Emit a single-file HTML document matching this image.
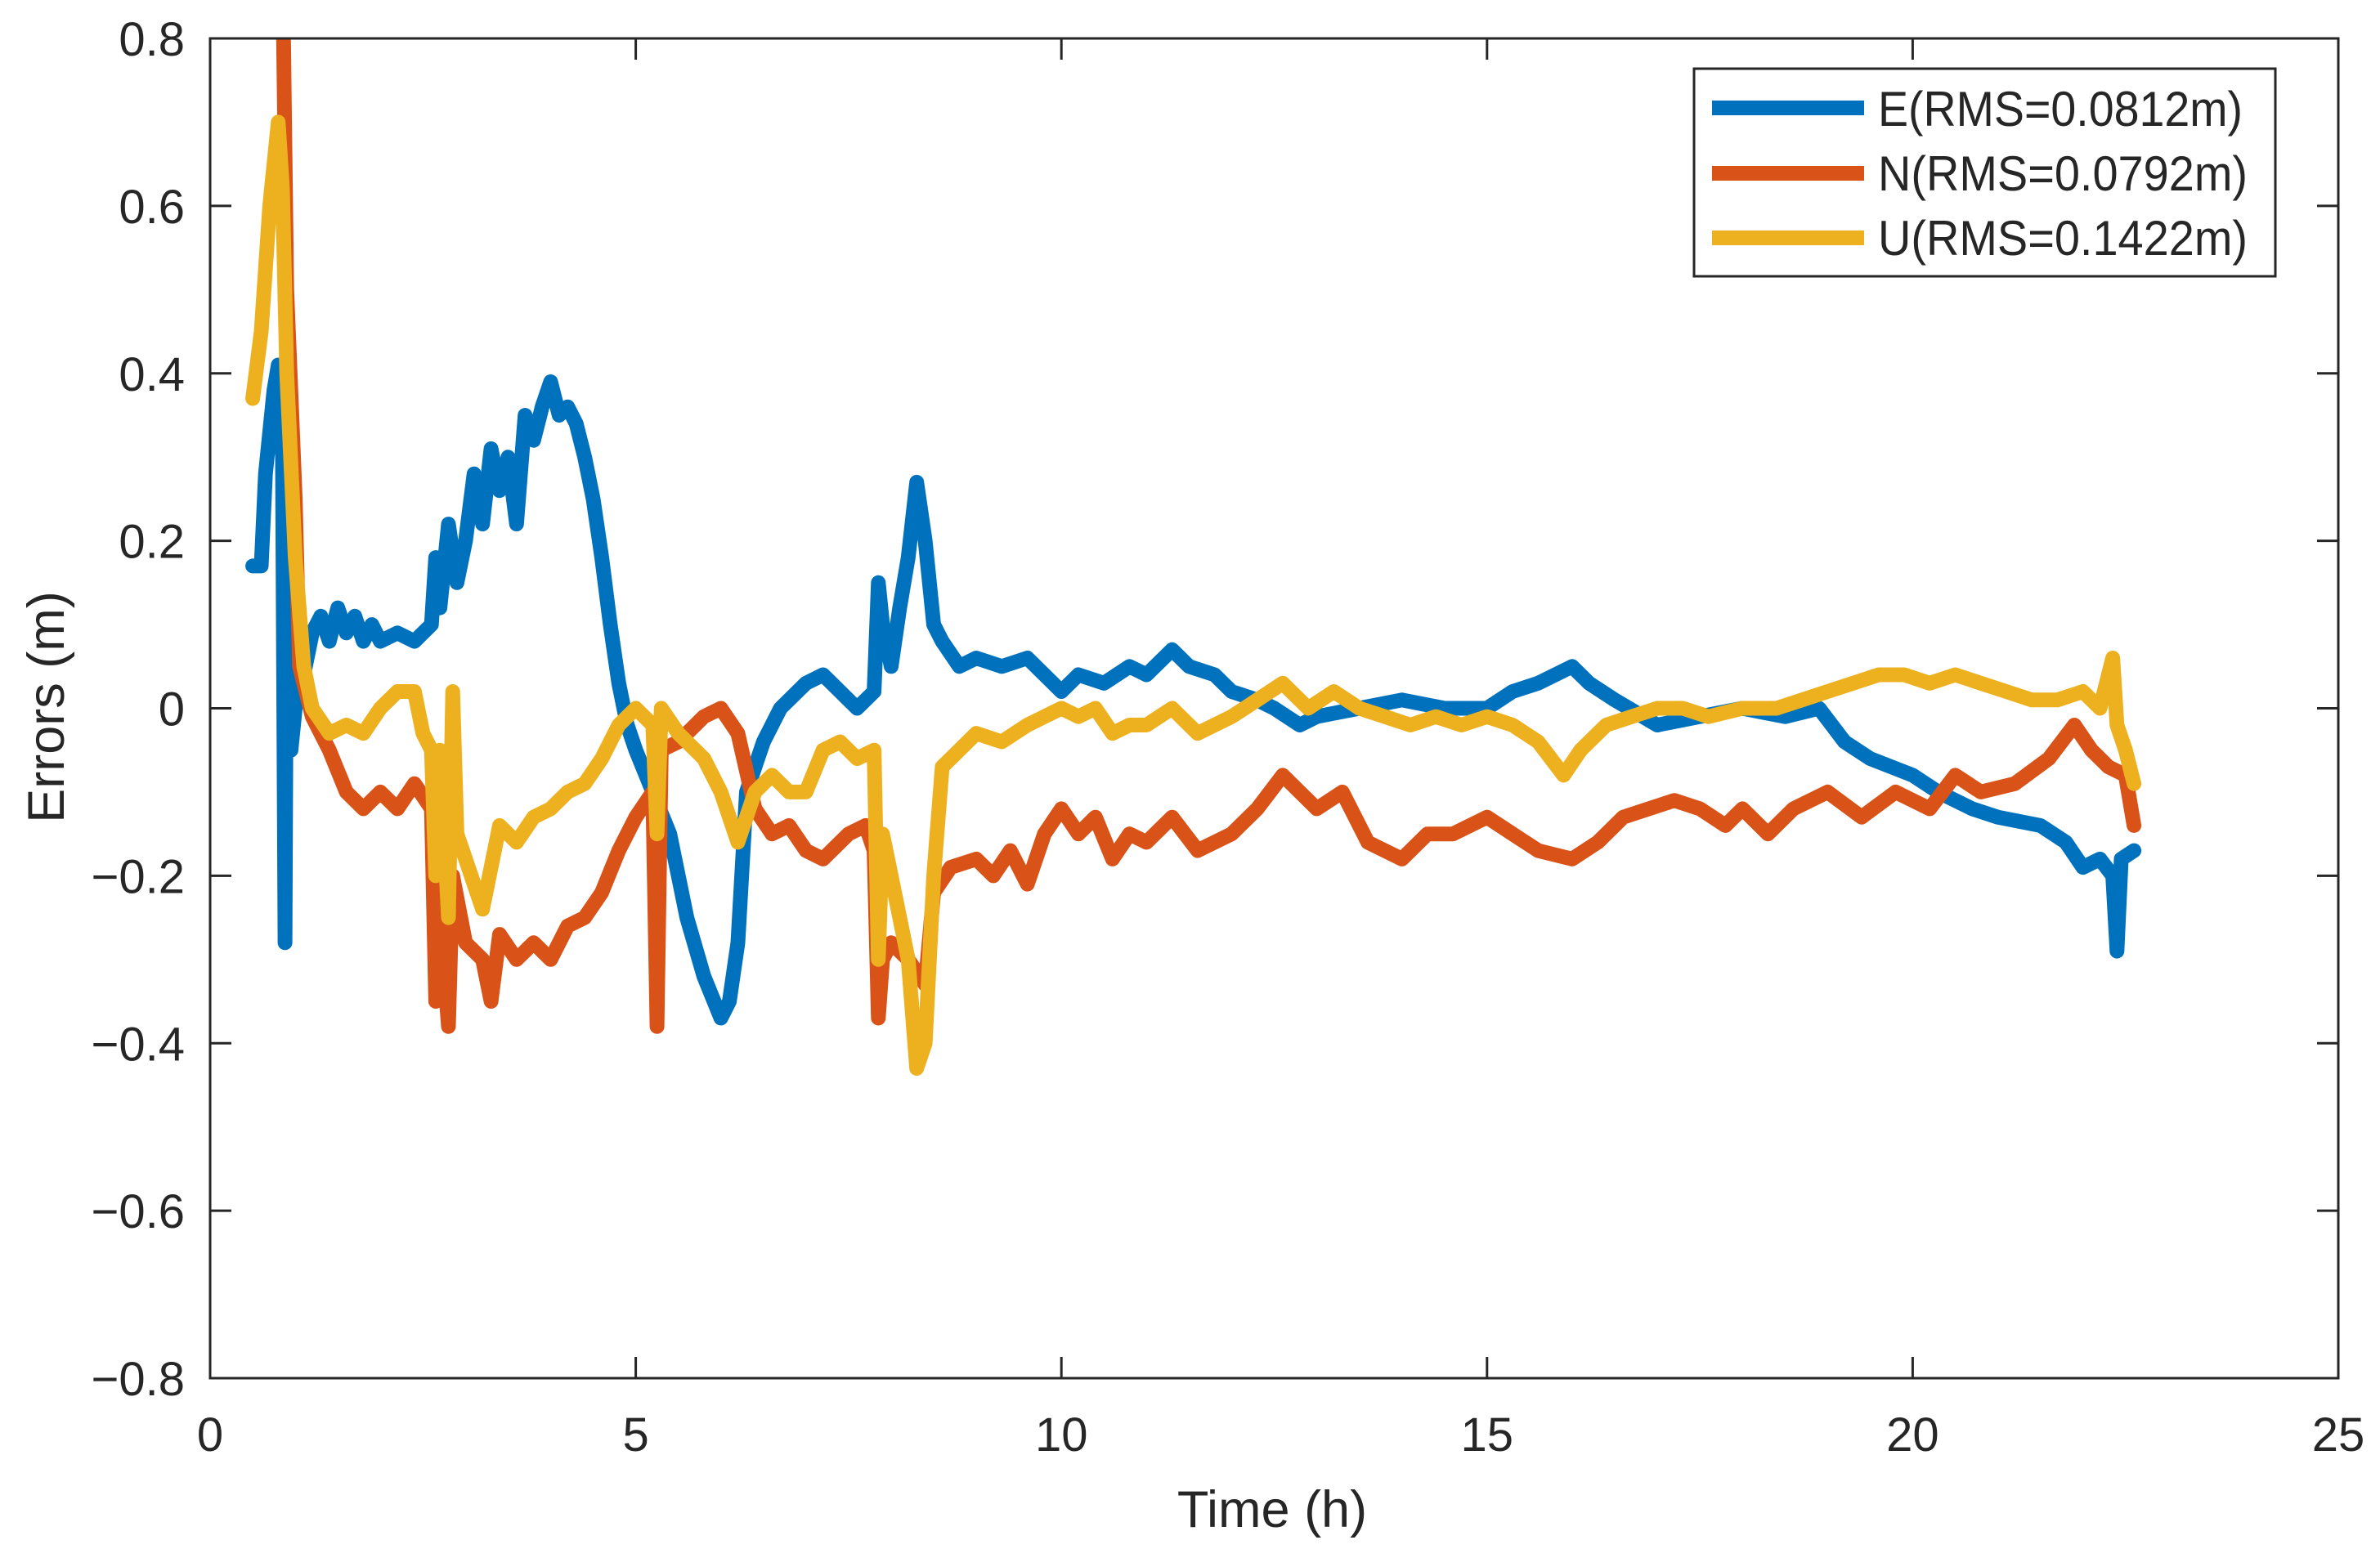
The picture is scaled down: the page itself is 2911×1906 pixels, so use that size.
<!DOCTYPE html>
<html><head><meta charset="utf-8"><style>
body{margin:0;background:#fff}
svg{display:block}
text{font-family:"Liberation Sans",Arial,sans-serif;fill:#262626}
</style></head><body>
<svg id="chart" width="2911" height="1906" viewBox="0 0 2911 1906">
<defs><clipPath id="pc"><rect x="257" y="47" width="2603" height="1639"/></clipPath></defs>
<rect x="257" y="47" width="2603" height="1639" fill="#fff"/>
<g id="ticks"></g>
<g id="series" clip-path="url(#pc)"></g>
<rect x="257" y="47" width="2603" height="1639" fill="none" stroke="#262626" stroke-width="3"/>
<text x="1556" y="1868" font-size="63" text-anchor="middle">Time (h)</text>
<text transform="translate(78,865) rotate(-90)" font-size="63" text-anchor="middle">Errors (m)</text>
<g>
<rect x="2072" y="84" width="711" height="254" fill="#fff" stroke="#262626" stroke-width="3"/>
<g><line x1="2094" y1="132" x2="2280" y2="132" stroke="#0072BD" stroke-width="18"/><text x="2297" y="154" font-size="60" textLength="446" lengthAdjust="spacingAndGlyphs">E(RMS=0.0812m)</text></g>
<g><line x1="2094" y1="212" x2="2280" y2="212" stroke="#D95319" stroke-width="18"/><text x="2297" y="233" font-size="60" textLength="452" lengthAdjust="spacingAndGlyphs">N(RMS=0.0792m)</text></g>
<g><line x1="2094" y1="291" x2="2280" y2="291" stroke="#EDB120" stroke-width="18"/><text x="2297" y="312" font-size="60" textLength="452" lengthAdjust="spacingAndGlyphs">U(RMS=0.1422m)</text></g>
</g>
</svg>
<script>
const xTicks=[0,5,10,15,20,25];
const yTicks=[0.8,0.6,0.4,0.2,0,-0.2,-0.4,-0.6,-0.8];
const yTickLabels=["0.8","0.6","0.4","0.2","0","\u22120.2","\u22120.4","\u22120.6","\u22120.8"];
const eT=[0.5,0.6,0.65,0.75,0.8,0.85,0.88,0.9,0.95,1.0,1.1,1.2,1.3,1.4,1.5,1.6,1.7,1.8,1.9,2.0,2.2,2.4,2.6,2.65,2.7,2.8,2.9,3.0,3.1,3.2,3.3,3.4,3.5,3.6,3.7,3.8,3.9,4.0,4.1,4.2,4.3,4.4,4.5,4.6,4.7,4.8,4.9,5.0,5.2,5.4,5.6,5.8,6.0,6.1,6.2,6.3,6.5,6.7,7.0,7.2,7.4,7.6,7.8,7.85,7.9,8.0,8.1,8.2,8.3,8.4,8.5,8.6,8.8,9.0,9.3,9.6,9.8,10.0,10.2,10.5,10.8,11.0,11.3,11.5,11.8,12.0,12.3,12.5,12.8,13.0,13.5,14.0,14.5,15.0,15.3,15.6,16.0,16.2,16.5,17.0,17.5,18.0,18.5,18.9,19.2,19.5,20.0,20.3,20.7,21.0,21.5,21.8,22.0,22.2,22.35,22.4,22.45,22.6];
const eV=[0.17,0.17,0.28,0.38,0.41,0.3,-0.28,0.2,-0.05,0.0,0.04,0.09,0.11,0.08,0.12,0.09,0.11,0.08,0.10,0.08,0.09,0.08,0.10,0.18,0.12,0.22,0.15,0.2,0.28,0.22,0.31,0.26,0.3,0.22,0.35,0.32,0.36,0.39,0.35,0.36,0.34,0.3,0.25,0.18,0.1,0.03,-0.02,-0.05,-0.1,-0.15,-0.25,-0.32,-0.37,-0.35,-0.28,-0.1,-0.04,0.0,0.03,0.04,0.02,0.0,0.02,0.15,0.1,0.05,0.12,0.18,0.27,0.2,0.1,0.08,0.05,0.06,0.05,0.06,0.04,0.02,0.04,0.03,0.05,0.04,0.07,0.05,0.04,0.02,0.01,0.0,-0.02,-0.01,0.0,0.01,0.0,0.0,0.02,0.03,0.05,0.03,0.01,-0.02,-0.01,0.0,-0.01,0.0,-0.04,-0.06,-0.08,-0.1,-0.12,-0.13,-0.14,-0.16,-0.19,-0.18,-0.2,-0.29,-0.18,-0.17];
const nT=[0.8,0.85,0.9,1.0,1.05,1.2,1.4,1.6,1.8,2.0,2.2,2.4,2.6,2.65,2.7,2.8,2.85,3.0,3.2,3.3,3.4,3.6,3.8,4.0,4.2,4.4,4.6,4.8,5.0,5.2,5.25,5.3,5.5,5.8,6.0,6.2,6.4,6.6,6.8,7.0,7.2,7.5,7.7,7.8,7.85,7.9,8.0,8.2,8.4,8.5,8.7,9.0,9.2,9.4,9.6,9.8,10.0,10.2,10.4,10.6,10.8,11.0,11.3,11.6,12.0,12.3,12.6,12.8,13.0,13.3,13.6,14.0,14.3,14.6,15.0,15.3,15.6,16.0,16.3,16.6,16.9,17.2,17.5,17.8,18.0,18.3,18.6,19.0,19.4,19.8,20.2,20.5,20.8,21.2,21.6,21.9,22.1,22.3,22.5,22.6];
const nV=[0.85,0.9,0.5,0.25,0.05,-0.01,-0.05,-0.1,-0.12,-0.1,-0.12,-0.09,-0.12,-0.35,-0.25,-0.38,-0.2,-0.28,-0.3,-0.35,-0.27,-0.3,-0.28,-0.3,-0.26,-0.25,-0.22,-0.17,-0.13,-0.1,-0.38,-0.05,-0.04,-0.01,0.0,-0.03,-0.12,-0.15,-0.14,-0.17,-0.18,-0.15,-0.14,-0.17,-0.37,-0.3,-0.28,-0.3,-0.33,-0.22,-0.19,-0.18,-0.2,-0.17,-0.21,-0.15,-0.12,-0.15,-0.13,-0.18,-0.15,-0.16,-0.13,-0.17,-0.15,-0.12,-0.08,-0.1,-0.12,-0.1,-0.16,-0.18,-0.15,-0.15,-0.13,-0.15,-0.17,-0.18,-0.16,-0.13,-0.12,-0.11,-0.12,-0.14,-0.12,-0.15,-0.12,-0.1,-0.13,-0.1,-0.12,-0.08,-0.1,-0.09,-0.06,-0.02,-0.05,-0.07,-0.08,-0.14];
const uT=[0.5,0.6,0.7,0.75,0.8,0.85,0.9,1.0,1.1,1.2,1.4,1.6,1.8,2.0,2.2,2.4,2.5,2.6,2.65,2.7,2.8,2.85,2.9,3.0,3.2,3.4,3.6,3.8,4.0,4.2,4.4,4.6,4.8,5.0,5.2,5.25,5.3,5.5,5.8,6.0,6.2,6.4,6.6,6.8,7.0,7.2,7.4,7.6,7.8,7.85,7.9,8.0,8.2,8.3,8.4,8.5,8.6,8.8,9.0,9.3,9.6,9.8,10.0,10.2,10.4,10.6,10.8,11.0,11.3,11.6,12.0,12.3,12.6,12.9,13.2,13.5,13.8,14.1,14.4,14.7,15.0,15.3,15.6,15.9,16.1,16.4,16.7,17.0,17.3,17.6,18.0,18.4,18.7,19.0,19.3,19.6,19.9,20.2,20.5,20.8,21.1,21.4,21.7,22.0,22.2,22.35,22.4,22.5,22.6];
const uV=[0.37,0.45,0.6,0.65,0.7,0.62,0.4,0.18,0.05,0.0,-0.03,-0.02,-0.03,0.0,0.02,0.02,-0.03,-0.05,-0.2,-0.05,-0.25,0.02,-0.15,-0.18,-0.24,-0.14,-0.16,-0.13,-0.12,-0.1,-0.09,-0.06,-0.02,0.0,-0.02,-0.15,0.0,-0.03,-0.06,-0.1,-0.16,-0.1,-0.08,-0.1,-0.1,-0.05,-0.04,-0.06,-0.05,-0.3,-0.15,-0.2,-0.3,-0.43,-0.4,-0.2,-0.07,-0.05,-0.03,-0.04,-0.02,-0.01,0.0,-0.01,0.0,-0.03,-0.02,-0.02,0.0,-0.03,-0.01,0.01,0.03,0.0,0.02,0.0,-0.01,-0.02,-0.01,-0.02,-0.01,-0.02,-0.04,-0.08,-0.05,-0.02,-0.01,0.0,0.0,-0.01,0.0,0.0,0.01,0.02,0.03,0.04,0.04,0.03,0.04,0.03,0.02,0.01,0.01,0.02,0.0,0.06,-0.02,-0.05,-0.09];

const X0=257,X1=2860,Y0=47,Y1=1686;
function xs(t){return X0+(t-0)/(25-0)*(X1-X0);}
function ys(v){return Y1-(v+0.8)/1.6*(Y1-Y0);}
const NS="http://www.w3.org/2000/svg";
const tg=document.getElementById('ticks');
function mk(tag,attrs,parent){const e=document.createElementNS(NS,tag);for(const k in attrs)e.setAttribute(k,attrs[k]);parent.appendChild(e);return e;}
xTicks.forEach((t,i)=>{
  const x=xs(t);
  const a=mk('line',{x1:x,y1:Y1,x2:x,y2:Y1-26,stroke:'#262626','stroke-width':3},tg);
  
  
  const b=mk('line',{x1:x,y1:Y0,x2:x,y2:Y0+26,stroke:'#262626','stroke-width':3},tg);
  
  
  const tx=mk('text',{x:x,y:1775,'font-size':58,'text-anchor':'middle'},tg);
  tx.textContent=String(t);
  
  
});
yTicks.forEach((v,i)=>{
  const y=ys(v);
  const a=mk('line',{x1:X0,y1:y,x2:X0+26,y2:y,stroke:'#262626','stroke-width':3},tg);
  
  
  const b=mk('line',{x1:X1,y1:y,x2:X1-26,y2:y,stroke:'#262626','stroke-width':3},tg);
  
  
  const tx=mk('text',{x:226,y:y+21,'font-size':58,'text-anchor':'end'},tg);
  tx.textContent=yTickLabels[i];
  
  
});
const sg=document.getElementById('series');
function draw(T,V,color,name){
  const d=T.map((t,i)=>(i?'L':'M')+xs(t).toFixed(1)+','+ys(V[i]).toFixed(1)).join('');
  const p=mk('path',{d:d,fill:'none',stroke:color,'stroke-width':18,'stroke-linejoin':'round','stroke-linecap':'round'},sg);
  
  
}
draw(eT,eV,'#0072BD','series-e-line');
draw(nT,nV,'#D95319','series-n-line');
draw(uT,uV,'#EDB120','series-u-line');
</script>
</body></html>
